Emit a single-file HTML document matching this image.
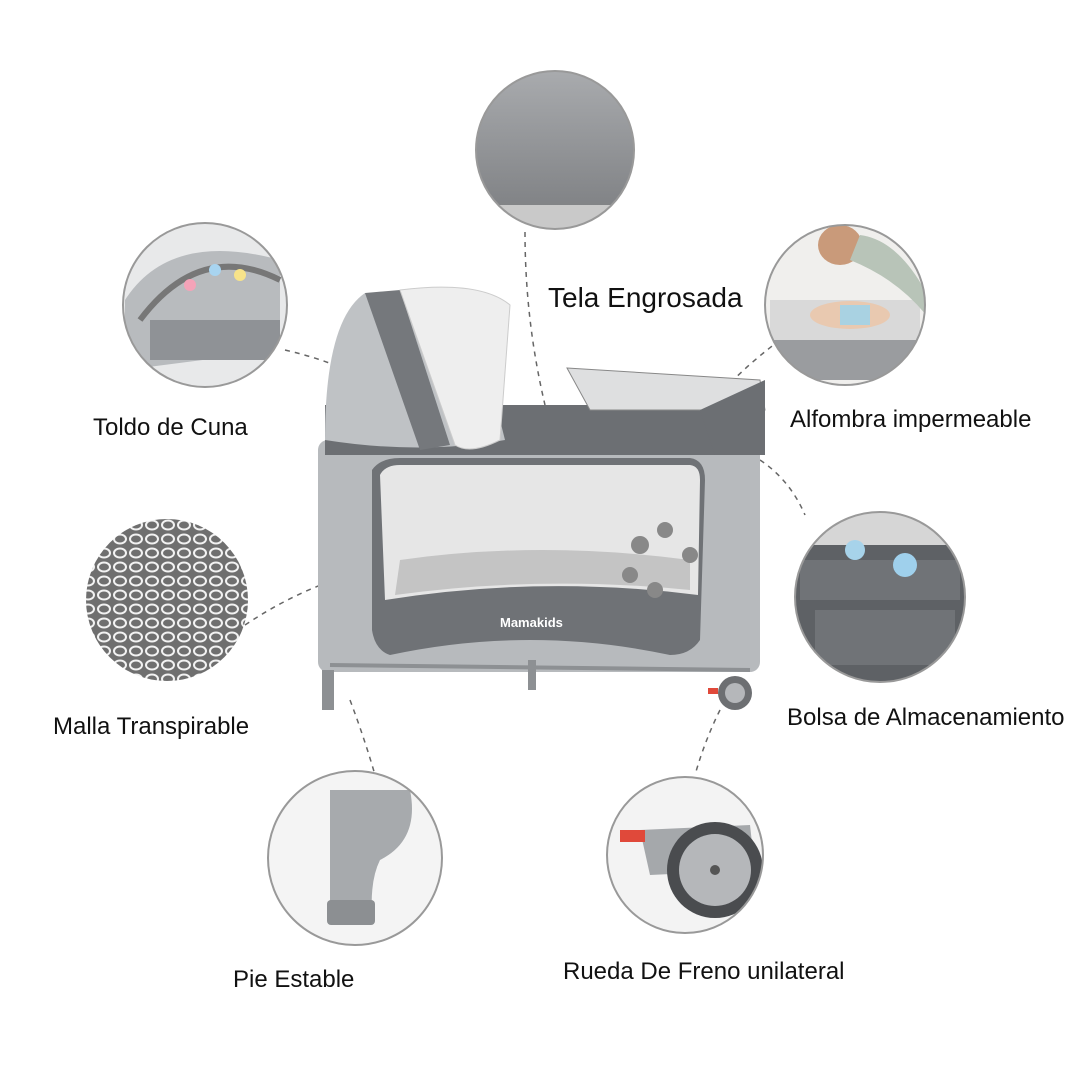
<!DOCTYPE html>
<html><head><style>
body{margin:0;background:#fff;width:1080px;height:1080px;overflow:hidden;position:relative;font-family:"Liberation Sans",sans-serif}
.t{position:absolute;color:#111;font-size:24px;white-space:nowrap}
svg{position:absolute;left:0;top:0}
</style></head><body>
<svg width="1080" height="1080" viewBox="0 0 1080 1080">
<defs>
<pattern id="mesh" width="16" height="14" patternUnits="userSpaceOnUse">
<rect width="16" height="14" fill="#6f6f6f"/><ellipse cx="8" cy="7" rx="6" ry="4.5" fill="none" stroke="#f2f2f2" stroke-width="2"/>
</pattern>
<clipPath id="c1"><circle cx="555" cy="150" r="79"/></clipPath>
<clipPath id="c2"><circle cx="205" cy="305" r="82"/></clipPath>
<clipPath id="c3"><circle cx="845" cy="305" r="80"/></clipPath>
<clipPath id="c4"><circle cx="167" cy="600" r="81"/></clipPath>
<clipPath id="c5"><circle cx="880" cy="597" r="85"/></clipPath>
<clipPath id="c6"><circle cx="355" cy="858" r="87"/></clipPath>
<clipPath id="c7"><circle cx="685" cy="855" r="78"/></clipPath>
<linearGradient id="g1" x1="0" y1="0" x2="0" y2="1"><stop offset="0" stop-color="#a9abae"/><stop offset="1" stop-color="#77797c"/></linearGradient>
</defs>
<g stroke="#666" stroke-width="1.5" stroke-dasharray="5,5" fill="none">
<path d="M525 232 Q525 320 545 405"/>
<path d="M285 350 Q350 365 390 395"/>
<path d="M780 340 Q740 370 715 400"/>
<path d="M245 625 Q320 575 398 565"/>
<path d="M760 460 Q790 480 805 515"/>
<path d="M350 700 Q365 740 375 775"/>
<path d="M720 710 Q705 740 695 775"/>
</g>
<g clip-path="url(#c1)"><rect x="470" y="70" width="170" height="170" fill="url(#g1)"/><rect x="470" y="205" width="170" height="30" fill="#c9c9c9"/></g>
<circle cx="555" cy="150" r="79" fill="none" stroke="#999" stroke-width="2"/>
<g clip-path="url(#c2)"><rect x="120" y="220" width="170" height="170" fill="#e8e9ea"/><path d="M125 300 Q170 230 280 260 L280 350 L125 370Z" fill="#b8bbbe"/><path d="M140 320 Q200 240 280 280" stroke="#777" stroke-width="6" fill="none"/><rect x="150" y="320" width="130" height="40" fill="#8f9296"/><circle cx="190" cy="285" r="6" fill="#f4a3b8"/><circle cx="215" cy="270" r="6" fill="#a8d4f0"/><circle cx="240" cy="275" r="6" fill="#f7e38a"/></g>
<circle cx="205" cy="305" r="82" fill="none" stroke="#999" stroke-width="2"/>
<g clip-path="url(#c3)"><rect x="760" y="220" width="170" height="170" fill="#f0efed"/><rect x="770" y="300" width="150" height="40" fill="#d9d9d9"/><ellipse cx="840" cy="245" rx="22" ry="20" fill="#c99a7a"/><path d="M850 260 Q900 280 930 320 L930 300 Q900 240 860 235Z" fill="#b8c4b8"/><ellipse cx="850" cy="315" rx="40" ry="14" fill="#e9c9b0"/><rect x="840" y="305" width="30" height="20" fill="#a9d2e2"/><rect x="770" y="340" width="150" height="40" fill="#9a9c9f"/></g>
<circle cx="845" cy="305" r="80" fill="none" stroke="#999" stroke-width="2"/>
<g clip-path="url(#c4)"><rect x="80" y="515" width="175" height="175" fill="url(#mesh)"/></g>
<g clip-path="url(#c5)"><rect x="790" y="505" width="180" height="180" fill="#5e6165"/><rect x="790" y="505" width="180" height="40" fill="#d6d6d6"/><rect x="800" y="560" width="160" height="40" fill="#707377"/><rect x="815" y="610" width="140" height="55" fill="#707377"/><circle cx="855" cy="550" r="10" fill="#a7d3ea"/><circle cx="905" cy="565" r="12" fill="#9fd0ec"/></g>
<circle cx="880" cy="597" r="85" fill="none" stroke="#999" stroke-width="2"/>
<g clip-path="url(#c6)"><rect x="265" y="770" width="180" height="180" fill="#f4f4f4"/><path d="M330 790 L410 790 Q420 840 380 860 Q370 880 372 915 L330 915 Z" fill="#a7aaad"/><rect x="327" y="900" width="48" height="25" rx="4" fill="#8c8f92"/></g>
<circle cx="355" cy="858" r="87" fill="none" stroke="#999" stroke-width="2"/>
<g clip-path="url(#c7)"><rect x="605" y="775" width="160" height="160" fill="#f3f3f3"/><path d="M640 830 L750 825 L755 870 L650 875Z" fill="#a5a8ab"/><circle cx="715" cy="870" r="48" fill="#4a4c4f"/><circle cx="715" cy="870" r="36" fill="#b5b7ba"/><circle cx="715" cy="870" r="5" fill="#555"/><rect x="620" y="830" width="25" height="12" fill="#e0493a"/></g>
<circle cx="685" cy="855" r="78" fill="none" stroke="#999" stroke-width="2"/>
<rect x="318" y="440" width="442" height="232" rx="10" fill="#b7babd"/>
<rect x="325" y="405" width="440" height="50" fill="#6c6f73"/>
<path d="M372 470 Q380 458 400 458 L690 458 Q705 460 705 480 L700 640 Q690 655 670 655 Q530 625 390 655 Q375 650 372 630Z" fill="#6f7276"/>
<path d="M380 475 Q385 465 400 465 L690 465 Q700 466 700 480 L698 595 Q540 575 385 600Z" fill="#e6e6e6"/>
<path d="M400 560 Q540 540 690 560 L690 590 Q540 575 395 595Z" fill="#c4c4c4"/>
<text x="500" y="627" font-family="Liberation Sans" font-weight="bold" font-size="13" fill="#fff">Mamakids</text>
<g fill="#888"><circle cx="640" cy="545" r="9"/><circle cx="665" cy="530" r="8"/><circle cx="690" cy="555" r="8"/><circle cx="655" cy="590" r="8"/><circle cx="630" cy="575" r="8"/></g>
<rect x="322" y="670" width="12" height="40" fill="#8d9093"/>
<rect x="528" y="660" width="8" height="30" fill="#8d9093"/>
<line x1="330" y1="665" x2="750" y2="670" stroke="#8d9093" stroke-width="4"/>
<circle cx="735" cy="693" r="17" fill="#6d6f72"/><circle cx="735" cy="693" r="10" fill="#b5b7ba"/>
<rect x="708" y="688" width="10" height="6" fill="#e0493a"/>
<path d="M325 440 Q325 320 365 293 L470 300 L505 440 Q420 455 325 440Z" fill="#bfc2c5"/>
<path d="M365 293 L400 290 L450 445 L420 450Z" fill="#75787c"/>
<path d="M400 290 Q480 280 510 305 L500 440 Q470 455 455 445Z" fill="#eeeeee" stroke="#ccc"/>
<path d="M567 368 L760 380 L765 410 L590 410 Z" fill="#dedfe0" stroke="#888"/>
<path d="M700 410 L765 380 L765 455 L715 455Z" fill="#6c6f73"/>
</svg>
<div class="t" style="left:548px;top:282px;font-size:28px">Tela Engrosada</div>
<div class="t" style="left:93px;top:414px">Toldo de Cuna</div>
<div class="t" style="left:790px;top:406px">Alfombra impermeable</div>
<div class="t" style="left:53px;top:713px">Malla Transpirable</div>
<div class="t" style="left:787px;top:704px">Bolsa de Almacenamiento</div>
<div class="t" style="left:233px;top:966px">Pie Estable</div>
<div class="t" style="left:563px;top:958px">Rueda De Freno unilateral</div>
</body></html>
